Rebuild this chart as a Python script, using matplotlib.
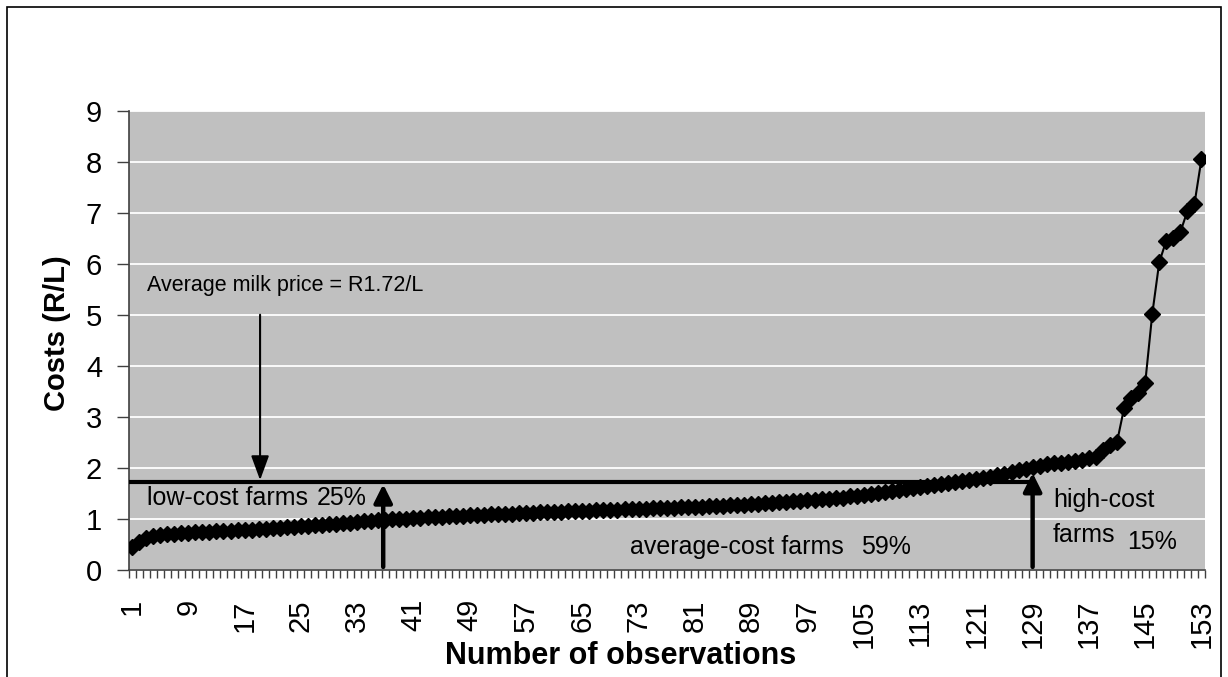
import matplotlib
matplotlib.use("Agg")
import matplotlib.pyplot as plt
from matplotlib.patches import Rectangle
from matplotlib.ticker import FixedLocator, NullFormatter

plt.rcParams['font.family'] = ['Liberation Sans', 'DejaVu Sans']

# ---- data ----
costs = [
    0.45, 0.55, 0.63, 0.67, 0.69, 0.70, 0.71, 0.72, 0.73, 0.74,
    0.74, 0.75, 0.76, 0.76, 0.77, 0.78, 0.79, 0.79, 0.80, 0.81,
    0.82, 0.83, 0.84, 0.85, 0.86, 0.87, 0.88, 0.89, 0.90, 0.91,
    0.92, 0.93, 0.94, 0.95, 0.96, 0.97, 0.98, 0.99, 1.00, 1.00,
    1.01, 1.02, 1.03, 1.03, 1.04, 1.05, 1.06, 1.06, 1.07, 1.07,
    1.08, 1.09, 1.09, 1.10, 1.10, 1.11, 1.11, 1.12, 1.13, 1.13,
    1.14, 1.14, 1.15, 1.15, 1.16, 1.16, 1.17, 1.17, 1.18, 1.18,
    1.19, 1.19, 1.20, 1.20, 1.21, 1.21, 1.22, 1.22, 1.23, 1.23,
    1.24, 1.24, 1.25, 1.25, 1.26, 1.27, 1.27, 1.28, 1.29, 1.30,
    1.31, 1.32, 1.33, 1.34, 1.35, 1.36, 1.37, 1.38, 1.39, 1.40,
    1.41, 1.42, 1.44, 1.45, 1.47, 1.48, 1.50, 1.52, 1.54, 1.56,
    1.58, 1.60, 1.62, 1.64, 1.66, 1.68, 1.70, 1.72, 1.74, 1.76,
    1.78, 1.80, 1.83, 1.86, 1.89, 1.92, 1.95, 1.98, 2.01, 2.04,
    2.07, 2.09, 2.10, 2.12, 2.14, 2.16, 2.19, 2.22, 2.35, 2.45,
    2.51, 3.17, 3.37, 3.47, 3.66, 5.01, 6.03, 6.45, 6.50, 6.62,
    7.03, 7.17, 8.05,
]
observations = list(range(1, len(costs) + 1))
x_tick_labels = [str(v) for v in range(1, 154, 8)]
y_ticks = list(range(0, 10))
avg_price = 1.72
low_cost_limit = 37      # observation where low-cost group ends
high_cost_start = 129    # observation where high-cost group starts

W, H = 1228, 677
fig = plt.figure(figsize=(W / 100, H / 100), dpi=100)
ax = fig.add_axes([128.5 / W, 1 - 570 / H, (1205 - 128.5) / W, (570 - 110.5) / H])

ax.set_facecolor('#c0c0c0')
ax.plot(observations, costs, color='black', linewidth=1.5, marker='D',
        markersize=8, markerfacecolor='black', markeredgecolor='black', zorder=3)

ax.set_xlim(0.5, len(costs) + 0.5)
ax.set_ylim(0, 9)
ax.set_yticks(y_ticks)
ax.yaxis.grid(True, color='white', linewidth=1.3)
ax.set_axisbelow(True)

ax.set_xticks([int(s) for s in x_tick_labels])
ax.set_xticklabels(x_tick_labels, rotation=90, fontsize=21)
ax.tick_params(axis='x', which='major', length=0, pad=21)
ax.xaxis.set_minor_locator(FixedLocator([i + 0.5 for i in range(0, len(costs) + 1)]))
ax.xaxis.set_minor_formatter(NullFormatter())
ax.tick_params(axis='x', which='minor', length=6, width=1, color='#404040', direction='out')
ax.tick_params(axis='y', length=9, width=1, color='#404040', labelsize=21, pad=10)

for s in ['top', 'right']:
    ax.spines[s].set_visible(False)
for s in ['left', 'bottom']:
    ax.spines[s].set_color('#404040')
    ax.spines[s].set_linewidth(1.2)

# axis titles
fig.text(57 / W, 1 - 333 / H, 'Costs (R/L)', fontsize=21, fontweight='bold',
         rotation=90, ha='center', va='center')
fig.text(621 / W, 1 - 656 / H, 'Number of observations', fontsize=22, fontweight='bold',
         ha='center', va='center')

# average price line
ax.plot([0.5, high_cost_start], [avg_price, avg_price], color='black', linewidth=3, zorder=4)

# annotations
ax.text(3.1, 5.58, 'Average milk price = R1.72/L', fontsize=15.5, va='center', ha='left')
ax.annotate('', xy=(19.2, 1.76), xytext=(19.2, 5.0),
            arrowprops=dict(arrowstyle='-|>,head_length=1.5,head_width=0.55',
                            color='black', lw=1.5, shrinkA=0, shrinkB=0), zorder=5)
ax.annotate('', xy=(low_cost_limit - 0.3, 1.68), xytext=(low_cost_limit - 0.3, 0.06),
            arrowprops=dict(arrowstyle='-|>,head_length=1.1,head_width=0.55',
                            color='black', lw=3.2, shrinkA=0, shrinkB=0), zorder=5)
ax.annotate('', xy=(high_cost_start, 1.90), xytext=(high_cost_start, 0.06),
            arrowprops=dict(arrowstyle='-|>,head_length=1.1,head_width=0.55',
                            color='black', lw=3.2, shrinkA=0, shrinkB=0), zorder=5)

ann_fs = 18
ax.text(3.1, 1.41, 'low-cost farms', fontsize=ann_fs, va='center', ha='left')
ax.text(27.3, 1.41, '25%', fontsize=ann_fs, va='center', ha='left')
ax.text(71.8, 0.45, 'average-cost farms', fontsize=ann_fs, va='center', ha='left')
ax.text(104.6, 0.45, '59%', fontsize=ann_fs, va='center', ha='left')
ax.text(131.9, 1.37, 'high-cost', fontsize=ann_fs, va='center', ha='left')
ax.text(131.9, 0.69, 'farms', fontsize=ann_fs, va='center', ha='left')
ax.text(142.5, 0.55, '15%', fontsize=ann_fs, va='center', ha='left')

# outer chart border
fig.patches.append(Rectangle((6.5 / W, -0.02), (1221 - 6.5) / W, (H - 6.5) / H + 0.02,
                             transform=fig.transFigure, fill=False, edgecolor='black',
                             linewidth=1.2))

fig.savefig('out.png', dpi=100)
